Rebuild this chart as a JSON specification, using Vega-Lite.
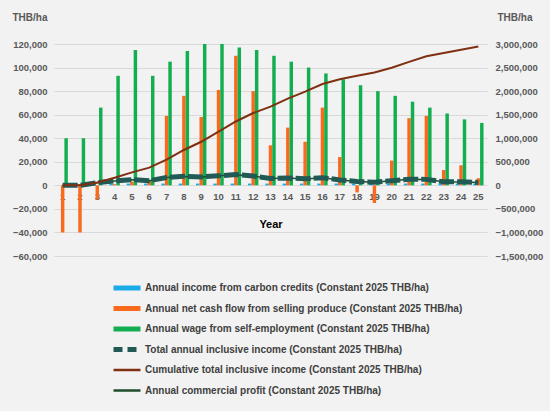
{
  "$schema": "https://vega.github.io/schema/vega-lite/v6.json",
  "width": 433,
  "height": 212,
  "autosize": {"type": "none"},
  "padding": {"left": 54, "top": 44, "right": 63, "bottom": 155},
  "background": "#f2f2f2",
  "config": {"view": {"stroke": null}, "font": "Liberation Sans"},
  "data": {
    "values": [
      {"year": 1, "carbon": 0, "produce": -40000, "wage": 40000, "profit": 0, "total": 0, "cumulative": 0},
      {"year": 2, "carbon": 0, "produce": -40000, "wage": 40000, "profit": 0, "total": 0, "cumulative": 0},
      {"year": 3, "carbon": 1500, "produce": -12000, "wage": 66000, "profit": 54000, "total": 55500, "cumulative": 60000},
      {"year": 4, "carbon": 1500, "produce": 1000, "wage": 93000, "profit": 94000, "total": 95500, "cumulative": 160000},
      {"year": 5, "carbon": 1500, "produce": 3000, "wage": 115000, "profit": 118000, "total": 119500, "cumulative": 275000},
      {"year": 6, "carbon": 1500, "produce": 4000, "wage": 93000, "profit": 97000, "total": 98500, "cumulative": 375000},
      {"year": 7, "carbon": 1500, "produce": 59000, "wage": 105000, "profit": 164000, "total": 165500, "cumulative": 545000},
      {"year": 8, "carbon": 1500, "produce": 76000, "wage": 114000, "profit": 190000, "total": 191500, "cumulative": 750000},
      {"year": 9, "carbon": 1500, "produce": 58000, "wage": 120000, "profit": 178000, "total": 179500, "cumulative": 925000},
      {"year": 10, "carbon": 1500, "produce": 81000, "wage": 120000, "profit": 201000, "total": 202500, "cumulative": 1140000},
      {"year": 11, "carbon": 1500, "produce": 110000, "wage": 117000, "profit": 227000, "total": 228500, "cumulative": 1355000},
      {"year": 12, "carbon": 1500, "produce": 80000, "wage": 115000, "profit": 195000, "total": 196500, "cumulative": 1535000},
      {"year": 13, "carbon": 1500, "produce": 34000, "wage": 110000, "profit": 144000, "total": 145500, "cumulative": 1670000},
      {"year": 14, "carbon": 1500, "produce": 49000, "wage": 105000, "profit": 154000, "total": 155500, "cumulative": 1840000},
      {"year": 15, "carbon": 1500, "produce": 37000, "wage": 100000, "profit": 137000, "total": 138500, "cumulative": 1990000},
      {"year": 16, "carbon": 1500, "produce": 66000, "wage": 95000, "profit": 161000, "total": 162500, "cumulative": 2150000},
      {"year": 17, "carbon": 1500, "produce": 24000, "wage": 90000, "profit": 114000, "total": 115500, "cumulative": 2250000},
      {"year": 18, "carbon": 1500, "produce": -6000, "wage": 85000, "profit": 79000, "total": 80500, "cumulative": 2325000},
      {"year": 19, "carbon": 1500, "produce": -15000, "wage": 80000, "profit": 65000, "total": 66500, "cumulative": 2395000},
      {"year": 20, "carbon": 1500, "produce": 21000, "wage": 76000, "profit": 97000, "total": 98500, "cumulative": 2495000},
      {"year": 21, "carbon": 1500, "produce": 57000, "wage": 71000, "profit": 128000, "total": 129500, "cumulative": 2620000},
      {"year": 22, "carbon": 1500, "produce": 59000, "wage": 66000, "profit": 125000, "total": 126500, "cumulative": 2740000},
      {"year": 23, "carbon": 1500, "produce": 13000, "wage": 61000, "profit": 74000, "total": 75500, "cumulative": 2810000},
      {"year": 24, "carbon": 1500, "produce": 17000, "wage": 56000, "profit": 73000, "total": 74500, "cumulative": 2880000},
      {"year": 25, "carbon": 1500, "produce": 6000, "wage": 53000, "profit": 59000, "total": 60500, "cumulative": 2945000}
    ]
  },
  "encoding": {
    "x": {
      "field": "year", "type": "ordinal",
      "scale": {"paddingInner": 0.4, "paddingOuter": 0.2},
      "axis": {
        "title": "Year", "labelAngle": 0, "offset": -70.67, "domain": false, "ticks": false,
        "labelPadding": 6, "labelFontSize": 9.5, "labelFontWeight": "bold", "labelColor": "#595959",
        "titleFontSize": 11, "titleFontWeight": "bold", "titleColor": "#000000", "titlePadding": 18
      }
    },
    "color": {
      "field": "key", "type": "nominal",
      "scale": {
        "domain": ["carbon", "produce", "wage", "total", "cumulative", "profit"],
        "range": ["#1cabe6", "#fa6a1c", "#12ae4f", "#215a55", "#7f3011", "#1f4d2c"]
      },
      "legend": {
        "orient": "none", "legendX": 68, "legendY": 239, "direction": "vertical", "title": null,
        "gridAlign": "all", "symbolType": "stroke", "symbolSize": 729, "labelOffset": 13, "rowPadding": 0.5,
        "labelFontSize": 10, "labelFontWeight": "bold", "labelColor": "#404040", "labelLimit": 400,
        "labelExpr": "{'carbon': 'Annual income from carbon credits (Constant 2025 THB/ha)', 'produce': 'Annual net cash flow from selling produce (Constant 2025 THB/ha)', 'wage': 'Annual wage from self-employment (Constant 2025 THB/ha)', 'total': 'Total annual inclusive income (Constant 2025 THB/ha)', 'cumulative': 'Cumulative total inclusive income (Constant 2025 THB/ha)', 'profit': 'Annual commercial profit (Constant 2025 THB/ha)'}[datum.value]",
        "encode": {
          "symbols": {
            "update": {
              "stroke": {"scale": "color", "field": "value"},
              "strokeWidth": {"signal": "datum.index < 4 ? 5 : 2.5"},
              "strokeDash": {"signal": "datum.index == 3 ? [9, 5] : [1, 0]"}
            }
          }
        }
      }
    }
  },
  "layer": [
    {
      "transform": [{"fold": ["carbon", "produce", "wage"]}],
      "mark": {"type": "bar"},
      "encoding": {
        "xOffset": {"field": "key", "type": "nominal", "scale": {"domain": ["carbon", "produce", "wage"], "paddingInner": 0}},
        "y": {
          "field": "value", "type": "quantitative",
          "scale": {"domain": [-60000, 120000], "nice": false},
          "axis": {
            "orient": "left", "values": [-60000, -40000, -20000, 0, 20000, 40000, 60000, 80000, 100000, 120000],
            "format": ",.0f", "grid": true, "gridColor": "#d9d9d9", "domain": false, "ticks": false,
            "labelPadding": 7, "labelFontSize": 9.5, "labelFontWeight": "bold", "labelColor": "#595959",
            "title": "THB/ha", "titleAngle": 0, "titleAlign": "left", "titleBaseline": "middle",
            "titleX": -42, "titleY": -27, "titleFontSize": 10, "titleFontWeight": "bold", "titleColor": "#595959"
          }
        }
      }
    },
    {
      "transform": [{"fold": ["profit", "total", "cumulative"]}],
      "encoding": {
        "y": {
          "field": "value", "type": "quantitative",
          "scale": {"domain": [-1500000, 3000000], "nice": false},
          "axis": {
            "orient": "right", "values": [-1500000, -1000000, -500000, 0, 500000, 1000000, 1500000, 2000000, 2500000, 3000000],
            "format": ",.0f", "grid": false, "domain": false, "ticks": false,
            "labelPadding": 8, "labelFontSize": 9.5, "labelFontWeight": "bold", "labelColor": "#595959",
            "title": "THB/ha", "titleAngle": 0, "titleAlign": "left", "titleBaseline": "middle",
            "titleX": 10, "titleY": -27, "titleFontSize": 10, "titleFontWeight": "bold", "titleColor": "#595959"
          }
        }
      },
      "layer": [
        {"transform": [{"filter": "datum.key == 'profit'"}], "mark": {"type": "line", "strokeWidth": 1.5}, "encoding": {}},
        {"transform": [{"filter": "datum.key == 'total'"}], "mark": {"type": "line", "strokeWidth": 5, "strokeDash": [15, 3]}, "encoding": {}},
        {"transform": [{"filter": "datum.key == 'cumulative'"}], "mark": {"type": "line", "strokeWidth": 2}, "encoding": {}}
      ]
    }
  ],
  "resolve": {"scale": {"y": "independent"}}
}
